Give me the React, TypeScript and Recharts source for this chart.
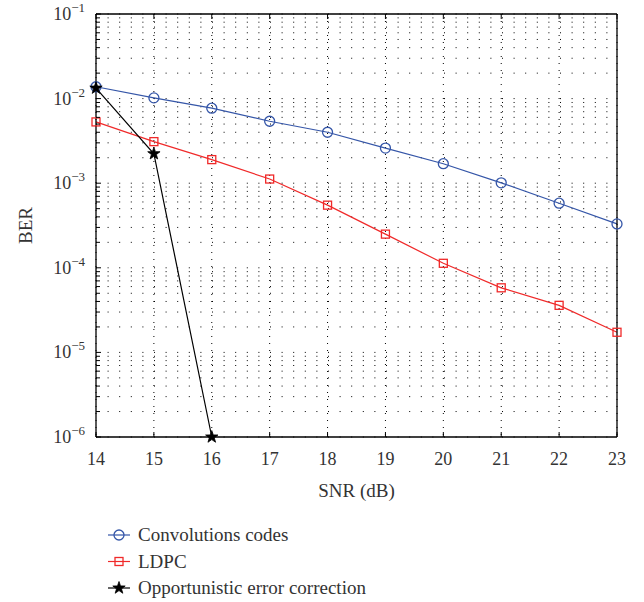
import React from 'react';
import { LineChart, Line, XAxis, YAxis, CartesianGrid, Legend, Label } from 'recharts';

// SNR (dB) on the x axis
const snr = [14, 15, 16, 17, 18, 19, 20, 21, 22, 23];

// BER
const convolutionCodes = [0.0138, 0.0102, 0.0077, 0.0054, 0.004, 0.0026, 0.0017, 0.00101, 0.00058, 0.00033];
const ldpc = [0.0053, 0.0031, 0.0019, 0.00112, 0.00055, 0.00025, 0.000113, 0.000058, 0.000036, 0.0000173];
const opportunistic = [0.0133, 0.00223, 0.000001];

const xTicks = [14, 15, 16, 17, 18, 19, 20, 21, 22, 23];
const yMajorTicks = [1e-6, 1e-5, 1e-4, 1e-3, 1e-2, 1e-1];
const yMinorFactors = [2, 3, 4, 5, 6, 7, 8, 9];

const BLUE = '#3556a8';
const RED = '#f02a2a';
const FONT = "'Liberation Serif', 'DejaVu Serif', serif";

const yTicks: number[] = [];
yMajorTicks.forEach((t, i) => {
  yTicks.push(t);
  if (i < yMajorTicks.length - 1) yMinorFactors.forEach((f) => yTicks.push(f * t));
});

const isMajor = (v: number) => yMajorTicks.some((t) => Math.abs(t - v) / t < 1e-6);

const chartData = snr.map((x, i) => ({
  snr: x,
  conv: convolutionCodes[i],
  ldpc: ldpc[i],
  opp: i < opportunistic.length ? opportunistic[i] : null,
}));

const series = [
  { key: 'conv', name: 'Convolutions codes', color: BLUE, marker: 'circle' },
  { key: 'ldpc', name: 'LDPC', color: RED, marker: 'square' },
  { key: 'opp', name: 'Opportunistic error correction', color: '#000', marker: 'star' },
];

function starPath(cx: number, cy: number, ro: number, ri: number) {
  let d = '';
  for (let k = 0; k < 10; k++) {
    const r = k % 2 === 0 ? ro : ri;
    const a = -Math.PI / 2 + (k * Math.PI) / 5;
    d += (k === 0 ? 'M' : 'L') + (cx + r * Math.cos(a)).toFixed(2) + ',' + (cy + r * Math.sin(a)).toFixed(2);
  }
  return d + 'Z';
}

function Marker({ type, cx, cy, color }: { type: string; cx: number; cy: number; color: string }) {
  if (type === 'circle') return <circle cx={cx} cy={cy} r={5} fill="none" stroke={color} strokeWidth={1.3} />;
  if (type === 'square') return <rect x={cx - 4} y={cy - 4} width={8} height={8} fill="none" stroke={color} strokeWidth={1.3} />;
  return <path d={starPath(cx, cy, 6.5, 2.6)} fill={color} stroke={color} strokeWidth={0.8} />;
}

const makeDot = (type: string, color: string) => (props: any) => {
  const { cx, cy, index } = props;
  if (cx == null || cy == null || props.value == null) return <g key={index} />;
  return <Marker key={index} type={type} cx={cx} cy={cy} color={color} />;
};

const LeftTick = (props: any) => {
  const { x, y, payload } = props;
  const major = isMajor(payload.value);
  const exp = Math.round(Math.log10(payload.value));
  return (
    <g>
      <line x1={x} y1={y} x2={x + (major ? 5 : 4)} y2={y} stroke="#000" strokeWidth={1} />
      {major && (
        <text x={x - 11} y={y + 6} textAnchor="end" fontFamily={FONT} fontSize={18} fill="#333">
          10
          <tspan dy={-8} fontSize={13}>
            {'\u2212' + Math.abs(exp)}
          </tspan>
        </text>
      )}
    </g>
  );
};

const RightTick = (props: any) => {
  const { x, y, payload } = props;
  const major = isMajor(payload.value);
  return <line x1={x} y1={y} x2={x - (major ? 5 : 4)} y2={y} stroke="#000" strokeWidth={1} />;
};

const BottomTick = (props: any) => {
  const { x, y, payload } = props;
  return (
    <g>
      <line x1={x} y1={y} x2={x} y2={y - 5} stroke="#000" strokeWidth={1} />
      <text x={x} y={y + 28} textAnchor="middle" fontFamily={FONT} fontSize={18} fill="#333">
        {payload.value}
      </text>
    </g>
  );
};

const TopTick = (props: any) => {
  const { x, y } = props;
  return <line x1={x} y1={y} x2={x} y2={y + 5} stroke="#000" strokeWidth={1} />;
};

const renderLegend = (props: any) => {
  const items = props.payload || [];
  return (
    <svg width={420} height={80} style={{ display: 'block' }}>
      {items.map((item: any, i: number) => {
        const s = series.find((d) => d.name === item.value) || series[i];
        const cy = 13 + i * 26.5;
        return (
          <g key={s.key}>
            <line x1={4} y1={cy} x2={26} y2={cy} stroke={s.color} strokeWidth={1.2} />
            <Marker type={s.marker} cx={15} cy={cy} color={s.color} />
            <text x={34} y={cy + 6} fontFamily={FONT} fontSize={19} fill="#333">
              {s.name}
            </text>
          </g>
        );
      })}
    </svg>
  );
};

export default function App() {
  return (
    <div style={{ position: 'absolute', left: 0, top: 0, background: '#fff' }}>
      <LineChart width={644} height={602} data={chartData} margin={{ top: 10, right: 17, bottom: 55, left: 36 }}>
        <CartesianGrid horizontal vertical={false} stroke="#000" strokeDasharray="1 10.6" />
        <CartesianGrid horizontal={false} vertical stroke="#000" strokeDasharray="1 6" />
        <XAxis
          dataKey="snr"
          type="number"
          domain={[14, 23]}
          ticks={xTicks}
          height={30}
          tickSize={0}
          tickMargin={0}
          tick={<BottomTick />}
          axisLine={{ stroke: '#000', strokeWidth: 1.3 }}
          interval={0}
        >
          <Label
            content={(p: any) => (
              <text
                x={p.viewBox.x + p.viewBox.width / 2}
                y={p.viewBox.y + 60}
                textAnchor="middle"
                fontFamily={FONT}
                fontSize={19}
                fill="#333"
              >
                SNR (dB)
              </text>
            )}
          />
        </XAxis>
        <XAxis
          xAxisId="top"
          orientation="top"
          dataKey="snr"
          type="number"
          domain={[14, 23]}
          ticks={xTicks}
          height={4}
          tickSize={0}
          tickMargin={0}
          tick={<TopTick />}
          axisLine={{ stroke: '#000', strokeWidth: 1.3 }}
          interval={0}
        />
        <YAxis
          scale="log"
          type="number"
          domain={[1e-6, 1e-1]}
          ticks={yTicks}
          width={60}
          tickSize={0}
          tickMargin={0}
          tick={<LeftTick />}
          axisLine={{ stroke: '#000', strokeWidth: 1.3 }}
          interval={0}
        >
          <Label
            content={(p: any) => {
              const cx = p.viewBox.x - 11;
              const cy = p.viewBox.y + p.viewBox.height / 2;
              return (
                <text
                  x={cx}
                  y={cy}
                  transform={`rotate(-90 ${cx} ${cy})`}
                  textAnchor="middle"
                  dominantBaseline="central"
                  fontFamily={FONT}
                  fontSize={19}
                  fill="#333"
                >
                  BER
                </text>
              );
            }}
          />
        </YAxis>
        <YAxis
          yAxisId="right"
          orientation="right"
          scale="log"
          type="number"
          domain={[1e-6, 1e-1]}
          ticks={yTicks}
          width={10}
          tickSize={0}
          tickMargin={0}
          tick={<RightTick />}
          axisLine={{ stroke: '#000', strokeWidth: 1.3 }}
          interval={0}
        />
        <Legend
          layout="horizontal"
          verticalAlign="bottom"
          align="left"
          content={renderLegend}
          wrapperStyle={{ left: 104, top: 522, bottom: 'auto', width: 420, height: 80 }}
        />
        {series.map((s) => (
          <Line
            key={s.key}
            dataKey={s.key}
            name={s.name}
            stroke={s.color}
            strokeWidth={1.2}
            dot={makeDot(s.marker, s.color)}
            activeDot={false}
            connectNulls={false}
            isAnimationActive={false}
          />
        ))}
      </LineChart>
    </div>
  );
}
